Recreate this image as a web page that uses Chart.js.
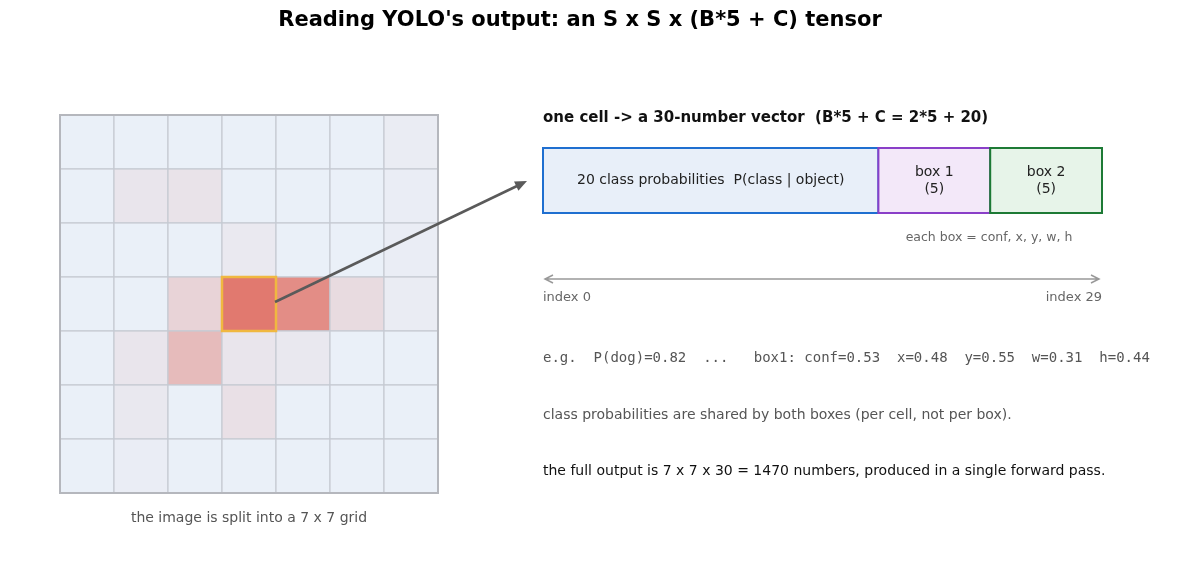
<!DOCTYPE html>
<html><head><meta charset="utf-8">
<script src="https://cdn.jsdelivr.net/npm/chart.js@4"></script>
<style>html,body{margin:0;padding:0;background:#fff}#c{display:block}</style>
</head><body>
<div style="width:1200px;height:578px"><canvas id="c"></canvas></div>
<script>
const gridSize = 7;
const heat = [
 [0,0,0,0,0,0,0.03],
 [0,0.08,0.1,0,0,0,0.02],
 [0,0,0,0.05,0,0,0.02],
 [0,0,0.22,0.9,0.75,0.16,0.03],
 [0,0.08,0.4,0.08,0.06,0,0],
 [0,0.06,0,0.12,0,0,0],
 [0,0.02,0,0,0,0,0]
];
const selected = [3,3];
const segments = ["20 class probabilities  P(class | object)", "box 1\n(5)", "box 2\n(5)"];
const segWidths = [3,1,1];
const segFill = ["#e8eff9","#f3e8f9","#e7f4e9"];
const segStroke = ["#1f6fd0","#8a3fc8","#1d7a35"];
const notes = [
 "e.g.  P(dog)=0.82  ...   box1: conf=0.53  x=0.48  y=0.55  w=0.31  h=0.44",
 "class probabilities are shared by both boxes (per cell, not per box).",
 "the full output is 7 x 7 x 30 = 1470 numbers, produced in a single forward pass."
];
const F = "DejaVu Sans";
function mix(t){const a=[234,240,248],b=[224,108,96];return `rgb(${a.map((v,i)=>Math.round(v+(b[i]-v)*t)).join(',')})`;}
const plugin = {id:'d', afterDraw(ch){
  const c=ch.ctx,X=ch.scales.x,Y=ch.scales.y;
  const px=v=>X.getPixelForValue(v), py=v=>Y.getPixelForValue(v);
  c.save();
  c.fillStyle='#000';c.font=`bold 21px ${F}`;c.textAlign='center';c.textBaseline='middle';
  c.fillText("Reading YOLO's output: an S x S x (B*5 + C) tensor",px(580),py(21));
  const gx=60,gy=115,cs=54;
  for(let r=0;r<gridSize;r++)for(let k=0;k<gridSize;k++){
    c.fillStyle=mix(heat[r][k]);c.fillRect(px(gx+k*cs),py(gy+r*cs),cs,cs);
    c.strokeStyle='#c6cad3';c.lineWidth=1.2;c.strokeRect(px(gx+k*cs),py(gy+r*cs),cs,cs);
  }
  c.strokeStyle='#b5b7bd';c.lineWidth=2;c.strokeRect(px(gx),py(gy),cs*7,cs*7);
  c.strokeStyle='#f0b840';c.lineWidth=2.5;c.strokeRect(px(gx+selected[1]*cs),py(gy+selected[0]*cs),cs,cs);
  c.fillStyle='#555';c.font=`14px ${F}`;c.fillText("the image is split into a 7 x 7 grid",px(249),py(518));
  // arrow
  const x0=275,y0=302,x1=527,y1=181;
  c.strokeStyle='#5a5a5a';c.lineWidth=2.5;c.beginPath();c.moveTo(px(x0),py(y0));c.lineTo(px(x1-10),py(y1+5));c.stroke();
  const ang=Math.atan2(y1-y0,x1-x0);c.fillStyle='#5a5a5a';c.beginPath();c.moveTo(px(x1),py(y1));
  c.lineTo(px(x1)-13*Math.cos(ang-0.4),py(y1)-13*Math.sin(ang-0.4));
  c.lineTo(px(x1)-13*Math.cos(ang+0.4),py(y1)-13*Math.sin(ang+0.4));c.fill();
  c.textAlign='left';c.fillStyle='#111';c.font=`bold 15px ${F}`;
  c.fillText("one cell -> a 30-number vector  (B*5 + C = 2*5 + 20)",px(543),py(118));
  const sx=543,sw=559,sy=148,sh=65,tot=segWidths.reduce((a,b)=>a+b,0);let cx=sx;
  segments.forEach((s,i)=>{const w=sw*segWidths[i]/tot;
    c.fillStyle=segFill[i];c.fillRect(px(cx),py(sy),w,sh);
    c.strokeStyle=segStroke[i];c.lineWidth=2;c.strokeRect(px(cx),py(sy),w,sh);
    c.fillStyle='#222';c.font=`14px ${F}`;c.textAlign='center';
    const ls=s.split('\n');ls.forEach((l,j)=>c.fillText(l,px(cx+w/2),py(sy+sh/2+(j-(ls.length-1)/2)*17)));
    cx+=w;});
  c.fillStyle='#666';c.font=`12.5px ${F}`;c.fillText("each box = conf, x, y, w, h",px(989),py(238));
  c.strokeStyle='#999';c.lineWidth=1.5;c.beginPath();c.moveTo(px(545),py(279));c.lineTo(px(1099),py(279));
  c.moveTo(px(553),py(275));c.lineTo(px(545),py(279));c.lineTo(px(553),py(283));
  c.moveTo(px(1091),py(275));c.lineTo(px(1099),py(279));c.lineTo(px(1091),py(283));c.stroke();
  c.fillStyle='#666';c.font=`13px ${F}`;c.textAlign='left';c.fillText("index 0",px(543),py(298));
  c.textAlign='right';c.fillText("index 29",px(1102),py(298));
  c.textAlign='left';c.fillStyle='#555';c.font=`14px "DejaVu Sans Mono"`;c.fillText(notes[0],px(543),py(358));
  c.font=`14px ${F}`;c.fillText(notes[1],px(543),py(415));
  c.fillStyle='#111';c.fillText(notes[2],px(543),py(471));
  c.restore();
}};
new Chart(document.getElementById('c'),{type:'scatter',data:{datasets:[{data:[]}]},
 options:{responsive:true,maintainAspectRatio:false,animation:false,layout:{padding:0},
  plugins:{legend:{display:false},tooltip:{enabled:false}},
  scales:{x:{type:'linear',min:0,max:1200,display:false},y:{type:'linear',min:0,max:578,reverse:true,display:false}}},
 plugins:[plugin]});
</script></body></html>
